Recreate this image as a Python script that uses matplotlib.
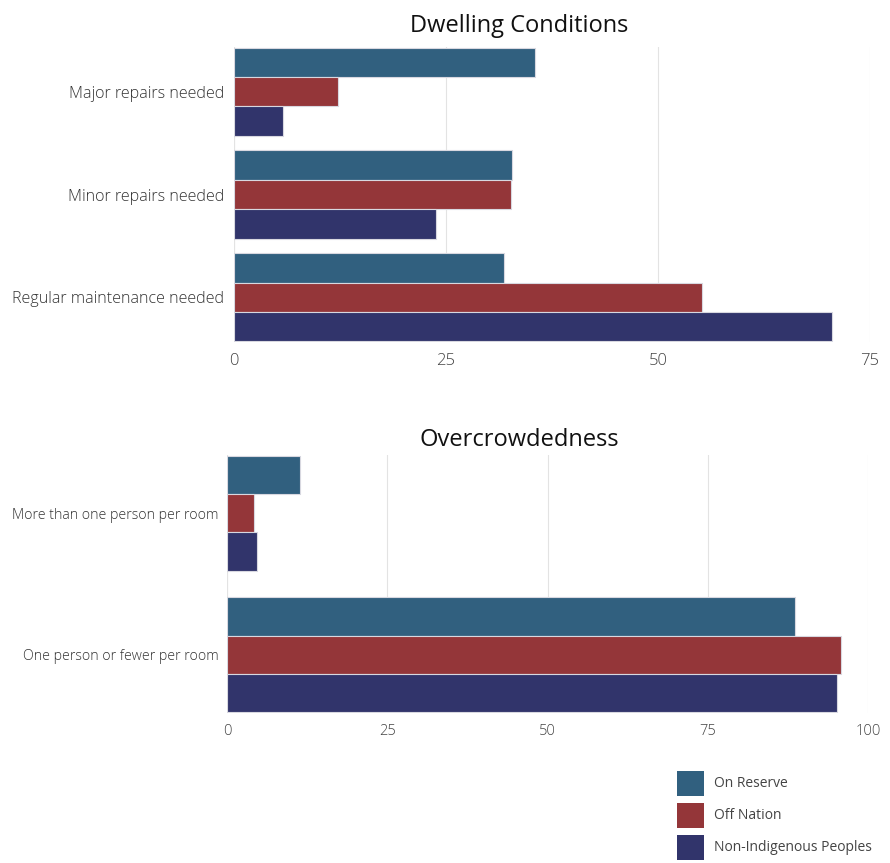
# Housing conditions: dwelling repairs and overcrowdedness by group
import matplotlib.pyplot as plt
import numpy as np
from matplotlib.patches import Patch

plt.rcParams['font.family'] = ['Open Sans', 'DejaVu Sans']

series = ['On Reserve', 'Off Nation', 'Non-Indigenous Peoples']
colors = ['#31607F', '#943639', '#31346B']

# Dwelling conditions (%)
dwelling_cats = ['Major repairs needed', 'Minor repairs needed', 'Regular maintenance needed']
dwelling_on_reserve = [35.5, 32.8, 31.8]
dwelling_off_nation = [12.3, 32.7, 55.2]
dwelling_non_indig = [5.8, 23.8, 70.5]

# Overcrowdedness (%)
crowd_cats = ['More than one person per room', 'One person or fewer per room']
crowd_on_reserve = [11.4, 88.6]
crowd_off_nation = [4.2, 95.8]
crowd_non_indig = [4.7, 95.2]

W, H = 890, 863
fig = plt.figure(figsize=(W / 100, H / 100), dpi=100)


def axes_px(left, top, right, bottom):
    return fig.add_axes([left / W, 1 - bottom / H, (right - left) / W, (bottom - top) / H])


def draw(ax, cats, vals, bh, xmax, ticks, title, label_size, tick_size, ypad):
    y = np.arange(len(cats))
    for i, (v, c) in enumerate(zip(vals, colors)):
        ax.barh(y + (i - 1) * bh, v, height=bh, color=c,
                edgecolor='#d8d8e0', linewidth=0.8, zorder=3)
    ax.set_yticks(y)
    ax.set_yticklabels(cats, fontsize=label_size, color='#333333', fontweight='light')
    ax.set_xlim(0, xmax)
    ax.set_ylim(len(cats) - 1 + 1.5 * bh + 0.005, -1.5 * bh - 0.005)
    ax.set_xticks(ticks)
    ax.set_xticklabels([str(t) for t in ticks], fontsize=tick_size, color='#444444',
                       fontweight='light')
    ax.tick_params(length=0)
    ax.tick_params(axis='x', pad=8)
    ax.tick_params(axis='y', pad=ypad)
    ax.grid(axis='x', color='#e3e3e3', linewidth=0.8, zorder=0)
    for s in ax.spines.values():
        s.set_visible(False)
    ax.axvline(0, color='#e3e3e3', linewidth=0.8, zorder=0)
    # titles sit centred at x ~ 519 px in the figure
    ax.text((519 - ax_left[ax]) / ax_width[ax], 1.0, title, transform=ax.transAxes,
            ha='center', va='bottom', fontsize=17, color='#111111')


ax_left, ax_width = {}, {}

ax1 = axes_px(234, 47, 870, 342)
ax_left[ax1], ax_width[ax1] = 234, 636
ax2 = axes_px(227, 455, 868, 713)
ax_left[ax2], ax_width[ax2] = 227, 641

draw(ax1, dwelling_cats, [dwelling_on_reserve, dwelling_off_nation, dwelling_non_indig],
     0.287, 75, [0, 25, 50, 75], 'Dwelling Conditions', 11.6, 12, 7)
ax1.texts[-1].set_y(1.03)

draw(ax2, crowd_cats, [crowd_on_reserve, crowd_off_nation, crowd_non_indig],
     0.27, 100, [0, 25, 50, 75, 100], 'Overcrowdedness', 10.2, 10.5, 6)
ax2.texts[-1].set_y(1.01)

handles = [Patch(facecolor=c, edgecolor='none') for c in colors]
fig.legend(handles, series, loc='upper left', bbox_to_anchor=(664 / W, 1 - 758 / H),
           frameon=False, fontsize=10, handlelength=1.95, handleheight=2.4,
           labelspacing=0.5, handletextpad=0.75, labelcolor='#444444')

plt.savefig('out.png', dpi=100)
print("Chart saved: out.png")
